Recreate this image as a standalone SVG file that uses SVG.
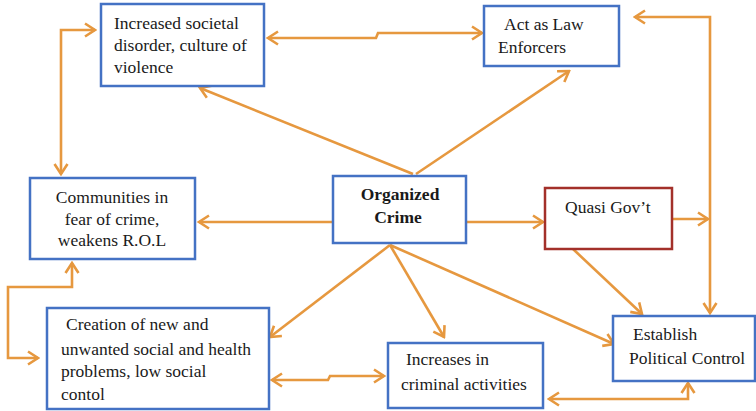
<svg xmlns="http://www.w3.org/2000/svg" width="756" height="411" viewBox="0 0 756 411">
<style>
.box{fill:#fff;stroke:#4472C4;stroke-width:2.5}
.red{fill:#fff;stroke:#A3302A;stroke-width:2.5}
.t{font-family:"Liberation Serif","Times New Roman",serif;font-size:17.5px;fill:#1a1a1a}
.b{font-weight:bold}
.c{stroke:#E6983F;stroke-width:2.6;fill:none}
</style>
<defs>
<marker id="a" viewBox="0 0 14 16" refX="12" refY="8" markerWidth="14" markerHeight="16" markerUnits="userSpaceOnUse" orient="auto-start-reverse">
<path d="M2,1.5 L12,8 L2,14.5" fill="none" stroke="#E6983F" stroke-width="2.6" stroke-linejoin="miter"/>
</marker>
</defs>
<g id="connectors">
<path class="c" d="M268,38 L376,38 L378,33 L482,33" marker-start="url(#a)" marker-end="url(#a)"/>
<path class="c" d="M61,174 L61,30 L95,30" marker-start="url(#a)" marker-end="url(#a)"/>
<path class="c" d="M413,174 L200,88" marker-end="url(#a)"/>
<path class="c" d="M416,174 L569,71" marker-end="url(#a)"/>
<path class="c" d="M333,222 L199,222" marker-end="url(#a)"/>
<path class="c" d="M466,222 L543,222" marker-end="url(#a)"/>
<path class="c" d="M673,219 L708,219" marker-end="url(#a)"/>
<path class="c" d="M635,17 L710,17 L710,313" marker-start="url(#a)" marker-end="url(#a)"/>
<path class="c" d="M573,249 L642,314" marker-end="url(#a)"/>
<path class="c" d="M390,245 L270,337" marker-end="url(#a)"/>
<path class="c" d="M390,245 L444,337" marker-end="url(#a)"/>
<path class="c" d="M390,245 L614,344" marker-end="url(#a)"/>
<path class="c" d="M72,263 L72,287 L8,287 L8,358 L38,358" marker-start="url(#a)" marker-end="url(#a)"/>
<path class="c" d="M272,380 L328,380 L330,376 L384,376" marker-start="url(#a)" marker-end="url(#a)"/>
<path class="c" d="M549,399 L688,399 L688,383" marker-start="url(#a)" marker-end="url(#a)"/>
</g>
<g id="societal">
<rect class="box" x="101" y="4" width="163" height="82"/>
<text class="t" x="114" y="29">Increased societal</text>
<text class="t" x="114" y="51">disorder, culture of</text>
<text class="t" x="114" y="73">violence</text>
</g>
<g id="law">
<rect class="box" x="484" y="6" width="135" height="60"/>
<text class="t" x="504" y="30">Act as Law</text>
<text class="t" x="498" y="53">Enforcers</text>
</g>
<g id="communities">
<rect class="box" x="30" y="178" width="165" height="81"/>
<text class="t" x="112" y="203" text-anchor="middle">Communities in</text>
<text class="t" x="112" y="225" text-anchor="middle">fear of crime,</text>
<text class="t" x="112" y="246" text-anchor="middle">weakens R.O.L</text>
</g>
<g id="organized">
<rect class="box" x="333" y="176" width="133" height="67"/>
<text class="t b" x="400" y="200" text-anchor="middle">Organized</text>
<text class="t b" x="398" y="223" text-anchor="middle">Crime</text>
</g>
<g id="quasi">
<rect class="red" x="545" y="188" width="127" height="61"/>
<text class="t" x="565" y="213">Quasi Gov’t</text>
</g>
<g id="establish">
<rect class="box" x="613" y="316" width="142" height="65"/>
<text class="t" x="633" y="340">Establish</text>
<text class="t" x="629" y="364">Political Control</text>
</g>
<g id="creation">
<rect class="box" x="47" y="308" width="222" height="101"/>
<text class="t" x="66" y="330">Creation of new and</text>
<text class="t" x="61" y="355">unwanted social and health</text>
<text class="t" x="61" y="377">problems, low social</text>
<text class="t" x="61" y="400">contol</text>
</g>
<g id="increases">
<rect class="box" x="388" y="343" width="155" height="65"/>
<text class="t" x="406" y="365">Increases in</text>
<text class="t" x="401" y="390">criminal activities</text>
</g>
</svg>
